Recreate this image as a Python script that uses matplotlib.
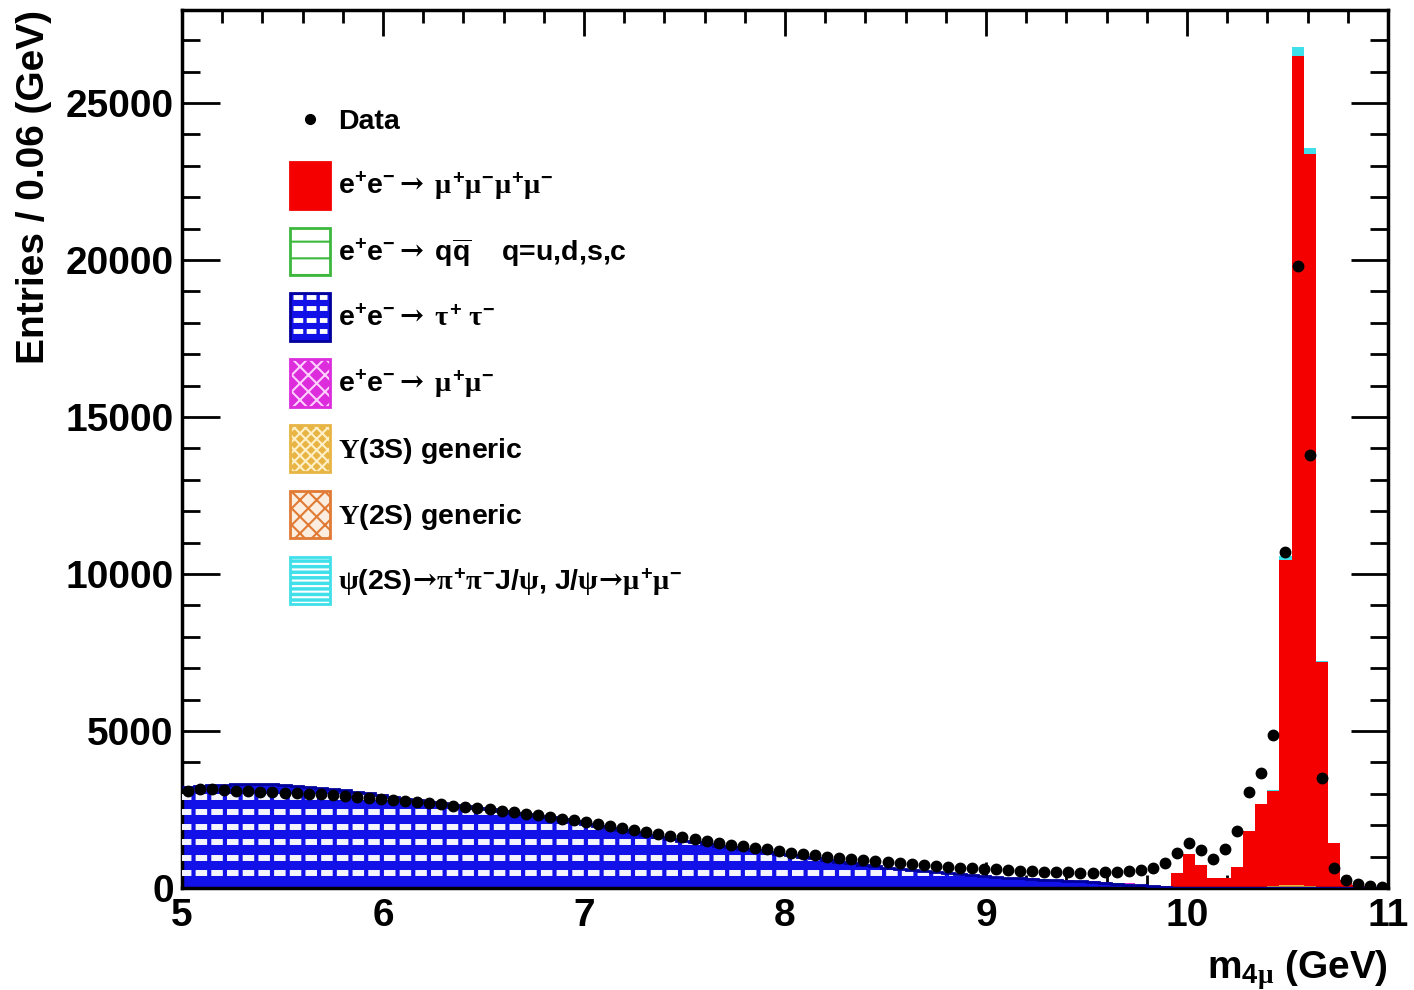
import matplotlib
matplotlib.use("Agg")
import matplotlib.pyplot as plt
import numpy as np
from matplotlib.patches import Patch, Rectangle
from matplotlib.lines import Line2D
from matplotlib.legend_handler import HandlerBase
from matplotlib.ticker import MultipleLocator

BLUE = "#1212e8"; DKBLUE = "#00009c"; RED = "#f40000"; GREEN = "#3cb83c"
MAGENTA = "#dc2cdc"; GOLD = "#e8b444"; ORANGE = "#e07a34"; CYAN = "#40e0ea"

plt.rcParams.update({
    "font.family": "Liberation Sans", "font.weight": "bold",
    "mathtext.fontset": "custom", "mathtext.rm": "Liberation Sans:bold",
    "mathtext.bf": "Liberation Sans:bold", "mathtext.it": "Liberation Serif",
    "mathtext.sf": "Liberation Serif", "mathtext.tt": "DejaVu Serif",
    "hatch.linewidth": 1.5, "lines.scale_dashes": False,
})

# 100 bins of 0.06 GeV between 5 and 11 GeV
edges = np.linspace(5.0, 11.0, 101)
centers = 0.5 * (edges[1:] + edges[:-1])

# MC: e+e- -> tau+ tau-
tau = [3230, 3250, 3270, 3290, 3300, 3310, 3310, 3300, 3280, 3260,
       3230, 3200, 3160, 3120, 3070, 3010, 2950, 2900, 2850, 2800,
       2750, 2700, 2650, 2600, 2550, 2500, 2450, 2400, 2350, 2300,
       2250, 2190, 2120, 2050, 1980, 1910, 1840, 1770, 1700, 1630,
       1560, 1500, 1450, 1400, 1350, 1300, 1250, 1200, 1140, 1090,
       1040, 990, 940, 890, 840, 790, 740, 690, 650, 610,
       570, 530, 500, 470, 440, 410, 380, 350, 330, 310,
       290, 270, 250, 230, 210, 190, 170, 140, 110, 80,
       50, 30, 15, 5, 0, 0, 0, 0, 0, 0,
       0, 0, 0, 0, 0, 0, 0, 0, 0, 0]

# small backgrounds, bins 70..99
qqbar_tail = [5, 5, 5, 5, 5, 5, 5, 5, 5, 5,
              5, 5, 5, 0, 0, 0, 0, 0, 0, 0,
              0, 0, 0, 0, 0, 0, 0, 0, 0, 0]
mumu_tail = [10, 10, 15, 15, 20, 25, 30, 30, 30, 25,
             20, 15, 10, 5, 0, 0, 0, 0, 0, 0,
             0, 0, 0, 0, 0, 0, 0, 0, 0, 0]
ups3s_tail = [0, 0, 0, 0, 0, 0, 0, 0, 0, 0,
              0, 0, 0, 0, 0, 0, 0, 0, 30, 40,
              60, 80, 80, 60, 40, 20, 0, 0, 0, 0]
ups2s_tail = [0, 0, 0, 0, 0, 0, 0, 0, 0, 0,
              0, 0, 10, 20, 15, 10, 0, 0, 0, 0,
              0, 0, 0, 0, 0, 0, 0, 0, 0, 0]
# e+e- -> 4 mu, bins 80..99
mu4_tail = [0, 0, 450, 1050, 730, 300, 330, 670, 1780, 2640,
            3020, 10350, 26400, 23300, 7170, 1400, 250, 100, 50, 20]
psi2s_tail = [0, 0, 0, 0, 0, 0, 0, 0, 0, 0,
              30, 150, 300, 200, 20, 0, 0, 0, 0, 0]

data = [3100, 3150, 3140, 3120, 3100, 3090, 3070, 3060, 3040, 3020,
        3000, 2980, 2950, 2920, 2890, 2860, 2830, 2800, 2770, 2740,
        2700, 2660, 2620, 2580, 2540, 2500, 2450, 2410, 2360, 2310,
        2260, 2210, 2150, 2090, 2030, 1970, 1910, 1850, 1790, 1730,
        1670, 1610, 1550, 1490, 1430, 1380, 1330, 1280, 1230, 1180,
        1130, 1080, 1040, 1000, 960, 920, 880, 850, 820, 790,
        760, 730, 700, 680, 650, 630, 610, 590, 570, 550,
        540, 520, 510, 500, 490, 490, 500, 510, 530, 570,
        640, 800, 1110, 1430, 1210, 920, 1240, 1820, 3060, 3660,
        4870, 10700, 19800, 13800, 3500, 640, 255, 120, 60, 30]


def full(tail):
    arr = np.zeros(100)
    arr[100 - len(tail):] = tail
    return arr


fig = plt.figure(figsize=(14.14, 9.9), dpi=100)
ax = fig.add_axes([182 / 1414, 102 / 990, 1206 / 1414, 878 / 990])

tau = np.asarray(tau, float)
tau_patch = ax.stairs(tau, edges, fill=True, color=BLUE, lw=0, zorder=2)
# ROOT-like "brick" fill: white dashed rows clipped to the tau histogram
for k in range(1, 9):
    ln, = ax.plot([0, 1], [k * 15.2 / 878] * 2, transform=ax.transAxes,
                  color="#f4f4ff", lw=4.3, ls=(1.5, (8.3, 3.0)), zorder=3)
    ln.set_clip_path(tau_patch)
ax.stairs(tau, edges, baseline=None, color=DKBLUE, lw=2, zorder=4)

lower = tau.copy()
for tail, col in [(qqbar_tail, GREEN), (mumu_tail, MAGENTA), (ups3s_tail, GOLD),
                  (ups2s_tail, ORANGE), (mu4_tail, RED), (psi2s_tail, CYAN)]:
    upper = lower + full(tail)
    ax.stairs(upper, edges, baseline=lower, fill=True, color=col, lw=0, zorder=2)
    lower = upper

ax.plot(centers, data, "o", color="black", ms=7.5, zorder=6)

ax.set_xlim(5, 11)
ax.set_ylim(0, 27960)
ax.set_xticks(range(5, 12))
ax.set_yticks(range(0, 25001, 5000))
ax.xaxis.set_minor_locator(MultipleLocator(0.2))
ax.yaxis.set_minor_locator(MultipleLocator(1000))
ax.tick_params(axis="x", which="major", length=19, width=2, direction="in",
               top=True, labelsize=28, pad=7)
ax.tick_params(axis="x", which="minor", length=9.5, width=2, direction="in", top=True)
ax.tick_params(axis="y", which="major", length=27, width=2, direction="in",
               right=True, labelsize=28, pad=6)
ax.tick_params(axis="y", which="minor", length=13, width=2, direction="in", right=True)
for s in ax.spines.values():
    s.set_linewidth(2.5)

fig.text(34 / 1414, 1 - 10 / 990, "Entries / 0.06 (GeV)", rotation=90,
         ha="center", va="top", fontsize=28)
fig.text(1388 / 1414, 1 - 978 / 990, r"m$_{4\mu}$ (GeV)", ha="right",
         va="baseline", fontsize=28)


class BoxHandler(HandlerBase):
    """Filled legend box with optional hatch or brick rows."""

    def __init__(self, fc, ec, hatch=None, hc=None, bricks=False):
        super().__init__()
        self.fc, self.ec, self.hatch, self.hc, self.bricks = fc, ec, hatch, hc, bricks

    def create_artists(self, legend, orig_handle, xdescent, ydescent,
                       width, height, fontsize, trans):
        x0, y0 = -xdescent, -ydescent
        arts = [Rectangle((x0, y0), width, height, fc=self.fc, ec="none",
                          transform=trans)]
        if self.hatch:
            arts.append(Rectangle((x0, y0), width, height, fc="none", ec=self.hc,
                                  hatch=self.hatch, lw=0, transform=trans))
        if self.bricks:
            for f in (0.2, 0.45, 0.7, 0.92):
                arts.append(Line2D([x0 + 2, x0 + width - 2], [y0 + f * height] * 2,
                                   color="white", lw=3.5, ls=(0, (7, 2.5)),
                                   transform=trans))
        arts.append(Rectangle((x0, y0), width, height, fc="none", ec=self.ec,
                              lw=2, transform=trans))
        return arts


class DotHandler(HandlerBase):
    """Single marker, level with the label text."""

    def create_artists(self, legend, orig_handle, xdescent, ydescent,
                       width, height, fontsize, trans):
        return [Line2D([-xdescent + width / 2], [-ydescent + 0.51 * height],
                       marker="o", ls="none", color="black", ms=7, transform=trans)]


h_data = Line2D([], [], marker="o", ls="none", color="black")
h_4mu, h_qq, h_tau, h_mumu, h_y3, h_y2, h_psi = (Patch() for _ in range(7))
handler_map = {
    h_data: DotHandler(),
    h_4mu: BoxHandler(RED, RED),
    h_qq: BoxHandler("white", GREEN, "-", GREEN),
    h_tau: BoxHandler(BLUE, DKBLUE, bricks=True),
    h_mumu: BoxHandler(MAGENTA, MAGENTA, "xx", "#ffd0ff"),
    h_y3: BoxHandler(GOLD, GOLD, "xxx", "#fff0c8"),
    h_y2: BoxHandler("#fbeee0", ORANGE, "xx", ORANGE),
    h_psi: BoxHandler(CYAN, CYAN, "---", "white"),
}
ARROW = r"\mathtt{\rightarrow}\;"
labels = [
    "Data",
    r"$\mathrm{e^{+}e^{-}}" + ARROW + r"\mu^{+}\mu^{-}\mu^{+}\mu^{-}$",
    r"$\mathrm{e^{+}e^{-}}" + ARROW + r"\mathrm{q\overline{q}}$    q=u,d,s,c",
    r"$\mathrm{e^{+}e^{-}}" + ARROW + r"\tau^{+}\;\tau^{-}$",
    r"$\mathrm{e^{+}e^{-}}" + ARROW + r"\mu^{+}\mu^{-}$",
    r"$\mathsf{\Upsilon}$(3S) generic",
    r"$\mathsf{\Upsilon}$(2S) generic",
    r"$\psi$(2S)$\!\mathtt{\rightarrow}\!\pi^{+}\pi^{-}$J/$\psi$, "
    r"J/$\psi\!\mathtt{\rightarrow}\!\mu^{+}\mu^{-}$",
]
ax.legend([h_data, h_4mu, h_qq, h_tau, h_mumu, h_y3, h_y2, h_psi], labels,
          handler_map=handler_map, loc="upper left",
          bbox_to_anchor=(290 / 1414, 1 - 96 / 990), bbox_transform=fig.transFigure,
          frameon=False, fontsize=20.5, handlelength=1.4, handleheight=2.18,
          handletextpad=0.28, labelspacing=0.65, borderpad=0, borderaxespad=0)

fig.savefig("out.png", dpi=100, facecolor="white")
